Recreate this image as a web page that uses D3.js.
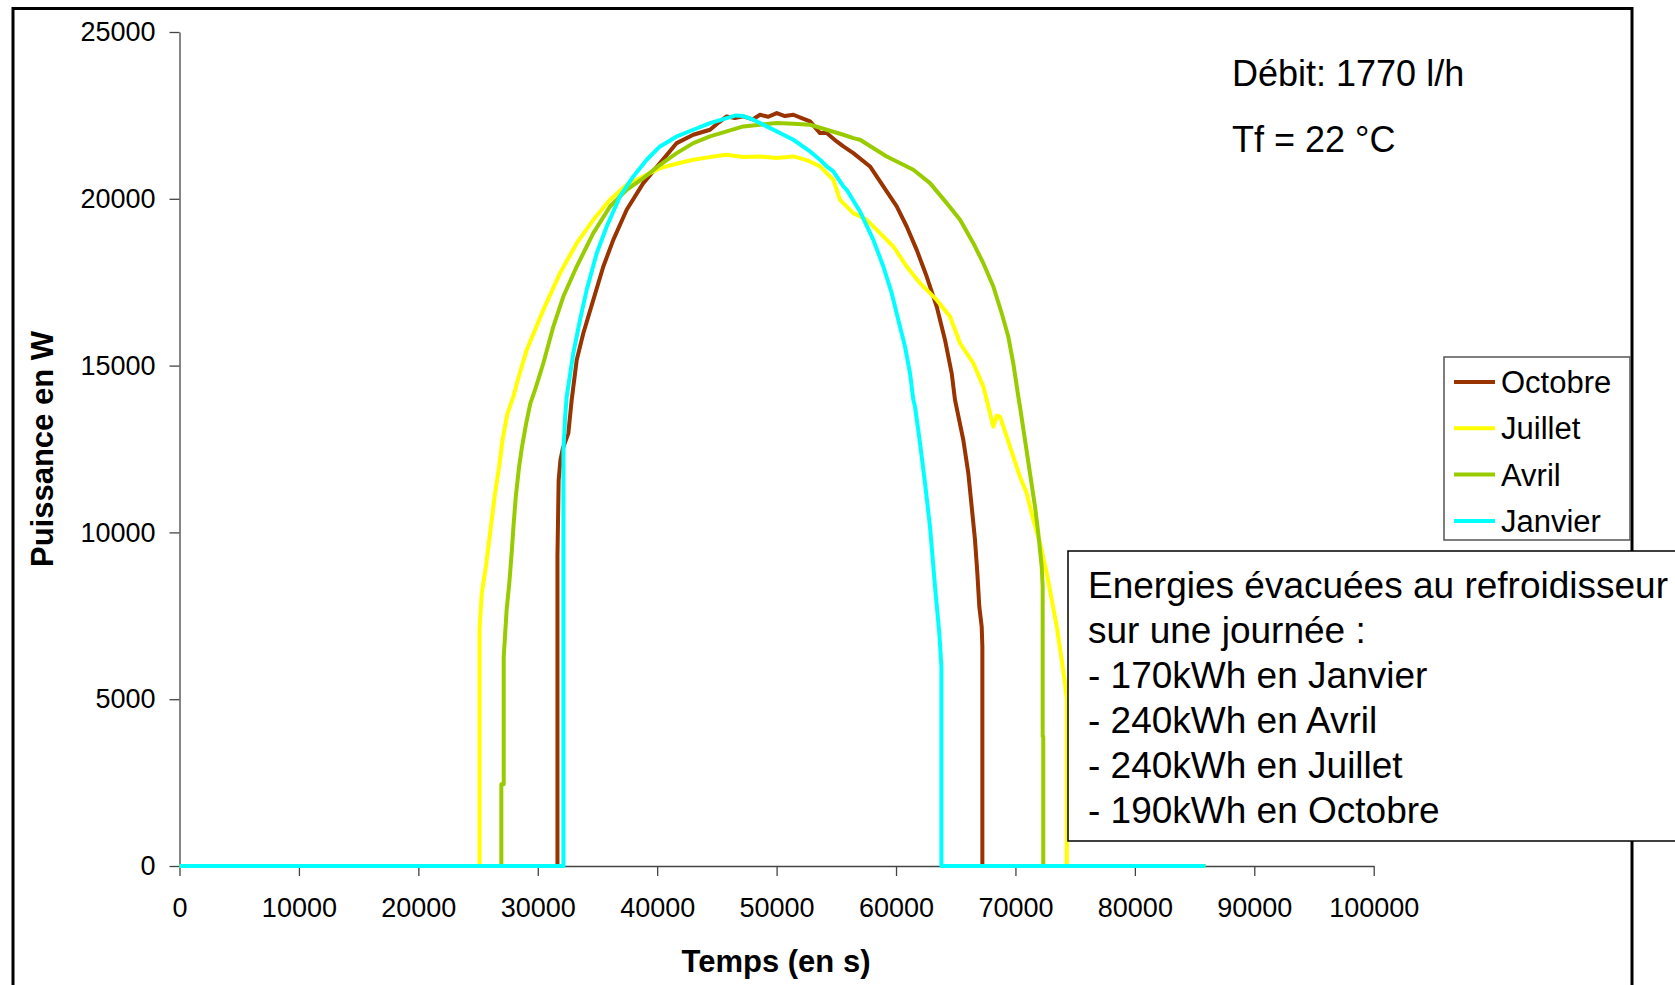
<!DOCTYPE html>
<html>
<head>
<meta charset="utf-8">
<script src="https://cdn.jsdelivr.net/npm/d3@7"></script>
<style>
  body { margin: 0; background: #fff; }
  text { font-family: "Liberation Sans", Arial, sans-serif; }
</style>
</head>
<body>
<script>
// tick values
var xTicks = [0, 10000, 20000, 30000, 40000, 50000, 60000, 70000, 80000, 90000, 100000];
var yTicks = [0, 5000, 10000, 15000, 20000, 25000];

// measured curves, [temps (s), puissance (W)]
var octobre = [[0,0],[31650,0],[31650,9300],[31750,11570],[31900,12170],[32100,12520],[32560,12970],[32840,13970],
    [33262,15170],[33815,15970],[34652,16970],[35490,17970],[36325,18770],[37447,19670],[38838,20470],[40237,21070],
    [41635,21670],[43025,21920],[44424,22070],[45200,22300],[45822,22470],[46500,22420],[47212,22470],[48000,22380],
    [48612,22520],[49300,22460],[50010,22570],[50700,22480],[51400,22520],[52100,22420],[52800,22320],[53636,21970],
    [54196,21970],[55033,21720],[55590,21570],[56425,21370],[57822,20970],[58937,20370],[60057,19770],[60895,19170],
    [61732,18470],[62570,17670],[63407,16770],[64102,15770],[64663,14770],[64940,13970],[65635,12770],[66055,11770],
    [66337,10770],[66615,9770],[66810,8780],[66975,7770],[67175,7170],[67230,6580],[67230,0],[85900,0]];

var juillet = [[0,0],[25130,0],[25130,7100],[25305,8160],[25652,8960],[26070,10160],[26417,11160],[26765,11960],
    [27043,12760],[27460,13560],[27955,14070],[28330,14570],[29074,15470],[30467,16670],[31863,17770],[33262,18670],
    [34652,19370],[36050,19970],[37447,20420],[38838,20670],[40237,20920],[41600,21050],[43025,21170],[44400,21250],
    [45822,21320],[47200,21250],[48612,21270],[50000,21220],[51400,21270],[52300,21180],[52800,21120],[53636,20970],
    [54196,20770],[54750,20570],[55033,20270],[55310,19970],[55590,19870],[56425,19570],[57545,19370],[58660,18970],
    [59775,18570],[60895,17970],[62010,17470],[63407,16970],[64520,16470],[65360,15670],[66475,15070],[67310,14370],
    [67596,13970],[68150,13170],[68450,13500],[68710,13470],[69270,12870],[69820,12270],[70380,11670],[70945,11170],
    [71500,10370],[72060,9680],[72620,8780],[73040,7980],[73460,7180],[73875,6180],[74150,5480],[74300,5000],
    [74300,0],[85900,0]];

var avril = [[0,0],[26950,0],[26950,2450],[27150,2450],[27150,6260],[27391,7660],[27635,8560],[27809,9360],
    [27983,10260],[28157,11060],[28435,11960],[28678,12560],[29026,13260],[29374,13860],[29800,14300],[30467,15070],
    [31303,16170],[32140,17070],[33262,17970],[34652,18970],[36050,19770],[37447,20270],[38838,20620],[40237,21020],
    [41635,21370],[43025,21670],[44424,21870],[45822,22020],[47212,22170],[48612,22220],[50010,22270],[51400,22250],
    [52800,22220],[54196,22070],[55590,21920],[56425,21820],[56985,21770],[59220,21270],[61450,20870],[62847,20470],
    [64245,19870],[65360,19370],[66475,18670],[67310,18070],[68150,17370],[68850,16570],[69400,15870],[69820,15070],
    [70240,14070],[70380,13770],[70800,12770],[71220,11770],[71640,10770],[71915,9970],[72200,8970],[72280,8370],
    [72280,3880],[72330,3880],[72330,0],[85900,0]];

var janvier = [[0,0],[32150,0],[32150,12470],[32300,13500],[32424,14070],[32977,15370],[33538,16370],[34099,17270],
    [34937,18370],[35774,19170],[36887,20070],[38002,20670],[39124,21170],[40237,21570],[41635,21870],[43025,22070],
    [44424,22270],[45822,22420],[46600,22500],[47212,22480],[48050,22370],[49170,22170],[50285,21970],[51400,21770],
    [52800,21420],[53636,21170],[54196,20970],[54750,20820],[55590,20370],[55870,20270],[56985,19620],[58100,18770],
    [58937,17970],[59640,17170],[60193,16370],[60753,15570],[61172,14770],[61450,13970],[61590,13770],[62010,12670],
    [62430,11470],[62847,10170],[63266,8370],[63625,6980],[63800,5980],[63800,0],[85900,0]];

var seriesNames = ["Octobre", "Juillet", "Avril", "Janvier"];
var seriesColors = ["#993300", "#FFFF00", "#99CC00", "#00FFFF"];
var seriesData = [octobre, juillet, avril, janvier];

var notes = ["Débit: 1770 l/h", "Tf = 22 °C"];
var energies = ["Energies évacuées au refroidisseur", "sur une journée :", "- 170kWh en Janvier",
    "- 240kWh en Avril", "- 240kWh en Juillet", "- 190kWh en Octobre"];

var svg = d3.select("body")
    .append("svg")
    .attr("width", 1675)
    .attr("height", 985);

svg.append("rect")
    .attr("width", 1675)
    .attr("height", 985)
    .style("fill", "#fff");

// outer frame
svg.append("rect")
    .attr("x", 13)
    .attr("y", 8.5)
    .attr("width", 1619)
    .attr("height", 1000)
    .style("fill", "none")
    .style("stroke", "#000")
    .style("stroke-width", 3);

var x = d3.scaleLinear().domain([0, 100000]).range([179.5, 1373.7]);
var y = d3.scaleLinear().domain([0, 25000]).range([866, 32]);

var yAxis = svg.append("g")
    .attr("transform", "translate(179.5,0)")
    .call(d3.axisLeft(y).tickValues(yTicks).tickSize(10).tickSizeOuter(0).tickPadding(14).tickFormat(d3.format("d")));

var xAxis = svg.append("g")
    .attr("transform", "translate(0,866)")
    .call(d3.axisBottom(x).tickValues(xTicks).tickSize(10).tickSizeOuter(0).tickPadding(22).tickFormat(d3.format("d")));

[xAxis, yAxis].forEach(function(a) {
    a.selectAll("path, line").style("stroke", "#444").style("stroke-width", 1.3);
    a.selectAll("text").style("font-size", "27px").style("fill", "#000")
        .style("font-family", "'Liberation Sans', Arial, sans-serif");
});

// axis titles
svg.append("text")
    .attr("transform", "translate(45,449) rotate(-90)")
    .attr("text-anchor", "middle")
    .attr("dominant-baseline", "middle")
    .style("font-size", "31px")
    .style("font-weight", "bold")
    .text("Puissance en W");

svg.append("text")
    .attr("x", 776)
    .attr("y", 972)
    .attr("text-anchor", "middle")
    .style("font-size", "31px")
    .style("font-weight", "bold")
    .text("Temps (en s)");

// curves
var line = d3.line()
    .x(function(d) { return x(d[0]); })
    .y(function(d) { return y(d[1]); });

svg.selectAll(".serie")
    .data(seriesData)
    .enter().append("path")
    .attr("class", "serie")
    .attr("d", line)
    .style("fill", "none")
    .style("stroke", function(d, i) { return seriesColors[i]; })
    .style("stroke-width", 4)
    .style("stroke-linejoin", "round");

// notes top right
svg.selectAll(".note")
    .data(notes)
    .enter().append("text")
    .attr("class", "note")
    .attr("x", 1232)
    .attr("y", function(d, i) { return 86 + i * 66; })
    .style("font-size", "36px")
    .text(function(d) { return d; });

// legend
var legend = svg.append("g");
legend.append("rect")
    .attr("x", 1444)
    .attr("y", 357)
    .attr("width", 186)
    .attr("height", 183)
    .style("fill", "#fff")
    .style("stroke", "#555")
    .style("stroke-width", 1.5);

var item = legend.selectAll(".item")
    .data(seriesNames)
    .enter().append("g")
    .attr("class", "item")
    .attr("transform", function(d, i) { return "translate(0," + (382 + i * 46.3) + ")"; });

item.append("line")
    .attr("x1", 1454)
    .attr("x2", 1495)
    .style("stroke", function(d, i) { return seriesColors[i]; })
    .style("stroke-width", 4);

item.append("text")
    .attr("x", 1501)
    .attr("dy", "0.36em")
    .style("font-size", "31px")
    .text(function(d) { return d; });

// energies box
svg.append("rect")
    .attr("x", 1068)
    .attr("y", 551)
    .attr("width", 640)
    .attr("height", 290)
    .style("fill", "#fff")
    .style("stroke", "#000")
    .style("stroke-width", 1.5);

svg.selectAll(".energie")
    .data(energies)
    .enter().append("text")
    .attr("class", "energie")
    .attr("x", 1088)
    .attr("y", function(d, i) { return 598 + i * 45; })
    .style("font-size", "37px")
    .text(function(d) { return d; });
</script>
</body>
</html>
